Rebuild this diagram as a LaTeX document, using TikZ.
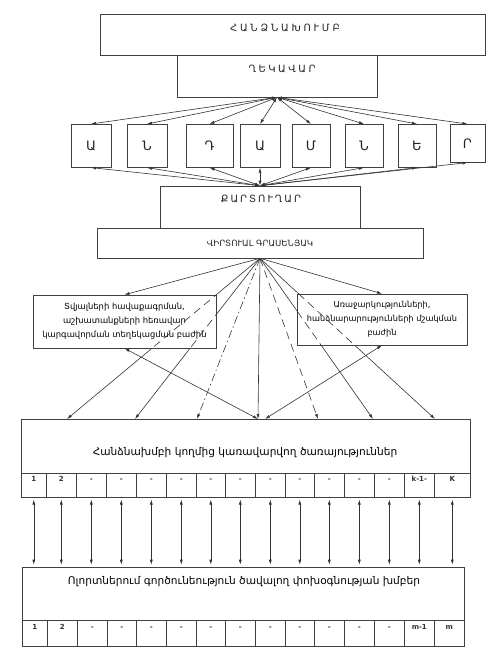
\documentclass[tikz,border=0pt]{standalone}
\usepackage{fontspec}
\setmainfont{DejaVu Sans}
\usetikzlibrary{arrows.meta,backgrounds}

\begin{document}
\begin{tikzpicture}[x=1pt,y=-1pt,
    box/.style={draw=black!75, line width=0.6pt, fill=white, inner sep=0pt},
    cell/.style={draw=black!75, line width=0.6pt, fill=white, inner sep=0pt,
      text height=7pt, text depth=15pt, font=\fontsize{7}{8}\selectfont\bfseries, text=black!80},
    caps/.style={font=\fontsize{#1}{12}\selectfont, text=black!85},
    link/.style={draw=black!80, line width=0.6pt, -{Latex[length=5pt,width=3pt]}},
    both/.style={link, {Latex[length=5pt,width=3pt]}-{Latex[length=5pt,width=3pt]}},
    dashlong/.style={dash pattern=on 8pt off 5pt},
    dashdot/.style={dash pattern=on 8pt off 3pt on 1.5pt off 3pt},
    ]
\useasboundingbox (0,0) rectangle (498,661);

% komite and leader
\node[box, minimum width=385, minimum height=41] (kom) at (292.5,34.5) {};
\node[caps=10] (komtxt) at (285,28) {\addfontfeature{LetterSpace=28}ՀԱՆՁՆԱԽՈՒՄԲ};
\node[box, minimum width=200, minimum height=42] (dek) at (277,76) {};
\node[caps=10] (dektxt) at (282,69) {\addfontfeature{LetterSpace=25}ՂԵԿԱՎԱՐ};

% members
\foreach \n/\x/\w/\h/\l in {1/91/40/43/Ա, 2/147/40/43/Ն, 3/209.5/47/43/Դ, 4/260/40/43/Ա,
    5/311/38/43/Մ, 6/364/38/43/Ն, 7/417/38/43/Ե, 8/467.5/35/38/Ր}
  \node[box, anchor=north, minimum width=\w, minimum height=\h, caps=13] (m\n) at (\x,124) {\l};

% secretary and office
\node[box, minimum width=200, minimum height=42] (kar) at (260,207) {};
\node[caps=10] (kartxt) at (261,199) {\addfontfeature{LetterSpace=20}ՔԱՐՏՈՒՂԱՐ};
\node[box, minimum width=326, minimum height=30, caps=8.6] (virt) at (260,243) {ՎԻՐՏՈՒԱԼ ԳՐԱՍԵՆՅԱԿ};

\foreach \n in {1,...,8} {
  \draw[both] (dek.south) -- (m\n.north);
  \draw[both] (kar.north) -- (m\n.south);
}

% departments
\node[box, minimum width=183, minimum height=53, align=center,
  font=\fontsize{8.4}{14}\selectfont] (lbox) at (124.5,321.5)
  {Տվյալների հավաքագրման,\\ աշխատանքների հեռավար\\ կարգավորման տեղեկացման բաժին};
\node[box, minimum width=170, minimum height=51, align=center,
  font=\fontsize{8.2}{14}\selectfont] (rbox) at (382,319.5)
  {Առաջարկությունների,\\ հանձնարարությունների մշակման\\ բաժին};

% services
\node[box, minimum width=449, minimum height=54] (serv) at (245.5,446) {};
\node[font=\fontsize{10.6}{12}\selectfont] (servtxt) at (245,453)
  {Հանձնախմբի կողմից կառավարվող ծառայություններ};
\foreach \a/\b/\t [count=\i] in {21/46/1, 46/76/2, 76/106/-, 106/136/-, 136/166/-, 166/196/-,
    196/225/-, 225/255/-, 255/285/-, 285/314/-, 314/344/-, 344/374/-, 374/404/-, 404/434/k-1-, 434/470/K}
  \node[cell, anchor=north west, minimum width=\b-\a, minimum height=24] (s\i) at (\a,473) {\t};

% groups
\node[box, minimum width=442, minimum height=53] (grp) at (243,593.5) {};
\node[font=\fontsize{10.6}{12}\selectfont] (grptxt) at (244,582)
  {Ոլորտներում գործունեություն ծավալող փոխօգնության խմբեր};
\foreach \a/\b/\t [count=\i] in {22/47/1, 47/77/2, 77/107/-, 107/136/-, 136/166/-, 166/196/-,
    196/225/-, 225/255/-, 255/285/-, 285/314/-, 314/344/-, 344/374/-, 374/404/-, 404/434/m-1, 434/464/m}
  \node[cell, anchor=north west, minimum width=\b-\a, minimum height=26] (g\i) at (\a,620) {\t};

\foreach \i in {1,...,15}
  \draw[both, shorten <=2pt, shorten >=2pt] (s\i.south) -- (s\i.south |- grp.north);

% fan from the office
\foreach \k/\x in {1/67, 2/135, 3/197, 4/258, 5/265, 6/318, 7/373, 8/435}
  \coordinate (t\k) at (\x,419);
\begin{scope}[on background layer]
  \draw[link] (virt.south) -- (lbox.north);
  \draw[link] (virt.south) -- (rbox.north);
  \draw[link] (virt.south) -- (t1);
  \draw[link] (virt.south) -- (t2);
  \draw[link, dashdot] (virt.south) -- (t3);
  \draw[link] (virt.south) -- (t4);
  \draw[link, dashlong] (virt.south) -- (t6);
  \draw[link] (virt.south) -- (t7);
  \draw[link] (virt.south) -- (t8);
  \draw[both] (lbox.south) -- (t4);
  \draw[both] (rbox.south) -- (t5);
\end{scope}
% dashed where they run behind the departments
\begin{scope}
  \clip (lbox.south west) rectangle (lbox.north east);
  \draw[draw=black!80, line width=0.6pt, dashlong] (virt.south) -- (t1) (virt.south) -- (t2);
\end{scope}
\begin{scope}
  \clip (rbox.south west) rectangle (rbox.north east);
  \draw[draw=black!80, line width=0.6pt, dashlong] (virt.south) -- (t7) (virt.south) -- (t8);
\end{scope}
\end{tikzpicture}
\end{document}
